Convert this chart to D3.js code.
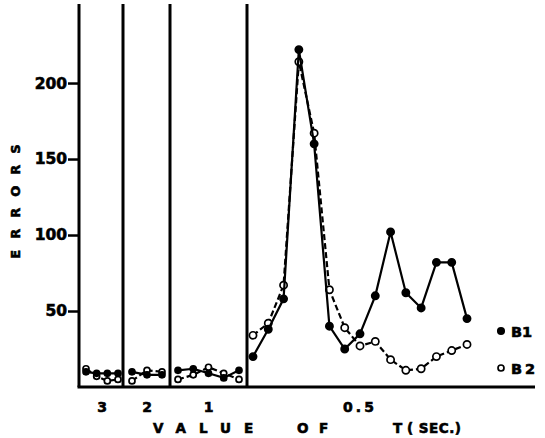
<!DOCTYPE html>
<html>
<head>
<meta charset="utf-8">
<script src="https://cdn.jsdelivr.net/npm/d3@7"></script>
<style>
  body { margin: 0; background: #fff; }
  svg { display: block; }
  text { font-family: "DejaVu Sans", sans-serif; font-weight: bold; fill: #000; stroke: #000; stroke-width: 0.6; }
</style>
</head>
<body>
<div id="chart"></div>
<script>
// Values of T (sec.) for each panel, left to right
const panels = ["3", "2", "1", "0.5"];

// Errors per session, one array per panel
const b1 = [
    [10, 9, 9, 9],
    [10, 8, 8],
    [11, 12, 9, 6, 11],
    [20, 38, 58, 222, 160, 40, 25, 35, 60, 102, 62, 52, 82, 82, 45]
];
const b2 = [
    [12, 7, 4, 5],
    [4, 11, 10],
    [5, 8, 13, 9, 5],
    [34, 42, 67, 214, 167, 64, 39, 27, 30, 18, 11, 12, 20, 24, 28]
];

const yTicks = [50, 100, 150, 200];
const seriesNames = ["B1", "B2"];

const width = 545, height = 438;

// Panel layout: separator lines and the span covered by each panel's points
const edges = [79, 123, 170, 247, 535];
const spans = [[86, 118], [132, 162], [178, 239], [253, 467]];

const svg = d3.select("#chart")
    .append("svg")
    .attr("width", width)
    .attr("height", height);

const y = d3.scaleLinear().domain([0, 252]).range([387, 4]);

// Y axis ticks and labels
const yAxis = svg.append("g")
    .attr("transform", `translate(${edges[0]},0)`)
    .call(d3.axisLeft(y).tickValues(yTicks).tickSize(11).tickPadding(1));
yAxis.select(".domain").remove();
yAxis.selectAll(".tick line").attr("stroke", "#000").attr("stroke-width", 2.5);
yAxis.selectAll(".tick text")
    .attr("font-size", 15.5)
    .attr("font-family", "DejaVu Sans")
    .attr("font-weight", "bold")
    .attr("fill", "#000");

// Panel separators (the first one is the y axis)
svg.append("g")
    .selectAll("line")
    .data(edges.slice(0, 4))
    .enter()
    .append("line")
    .attr("x1", d => d)
    .attr("x2", d => d)
    .attr("y1", y(252))
    .attr("y2", y(0))
    .attr("stroke", "#000")
    .attr("stroke-width", 3);

// Bottom axis line
svg.append("line")
    .attr("x1", edges[0] - 1.5)
    .attr("x2", edges[4])
    .attr("y1", y(0))
    .attr("y2", y(0))
    .attr("stroke", "#000")
    .attr("stroke-width", 3);

// x position of a point inside a panel
function xScale(p) {
    const n = b1[p].length;
    return d3.scaleLinear().domain([0, n - 1]).range(spans[p]);
}

const styles = [
    { data: b1, dash: null, fill: "#000" },
    { data: b2, dash: "6,3", fill: "#fff" }
];

panels.forEach((label, p) => {
    const x = xScale(p);
    const small = p < 3;
    const r = small ? 3 : 3.6;

    styles.slice().reverse().forEach(s => {
        const vals = s.data[p];
        const line = d3.line()
            .x((d, i) => x(i))
            .y(d => y(d));

        svg.append("path")
            .attr("d", line(vals))
            .attr("fill", "none")
            .attr("stroke", "#000")
            .attr("stroke-width", 2.2)
            .attr("stroke-dasharray", s.dash);

        svg.append("g")
            .selectAll("circle")
            .data(vals)
            .enter()
            .append("circle")
            .attr("cx", (d, i) => x(i))
            .attr("cy", d => y(d))
            .attr("r", r)
            .attr("fill", s.fill)
            .attr("stroke", "#000")
            .attr("stroke-width", 1.7);
    });

    // panel label under the axis
    svg.append("text")
        .attr("x", (spans[p][0] + spans[p][1]) / 2)
        .attr("y", 412)
        .attr("text-anchor", "middle")
        .attr("font-size", 14)
        .attr("letter-spacing", label.length > 1 ? 3 : 0)
        .text(label);
});

// Legend
const legend = svg.append("g");
seriesNames.forEach((name, i) => {
    const ly = 331 + i * 37;
    legend.append("circle")
        .attr("cx", 501)
        .attr("cy", ly)
        .attr("r", i === 0 ? 3.2 : 3)
        .attr("fill", styles[i].fill)
        .attr("stroke", "#000")
        .attr("stroke-width", 1.7);
    legend.append("text")
        .attr("x", 511)
        .attr("y", ly + 5.5)
        .attr("font-size", 14.5)
        .attr("letter-spacing", i === 0 ? 0 : 3)
        .text(name);
});

// Y axis title, rotated
svg.append("text")
    .attr("transform", "translate(20,196) rotate(-90)")
    .attr("text-anchor", "middle")
    .attr("font-size", 13)
    .attr("letter-spacing", 11)
    .text("ERRORS");

// X axis title, word by word
const titleParts = [
    { t: "VALUE", x: 153, ls: 13 },
    { t: "OF", x: 297, ls: 10.5 },
    { t: "T", x: 393, ls: 0 },
    { t: "( SEC.)", x: 407, ls: 0.5 }
];
svg.append("g")
    .selectAll("text")
    .data(titleParts)
    .enter()
    .append("text")
    .attr("x", d => d.x)
    .attr("y", 433)
    .attr("font-size", 13.5)
    .attr("letter-spacing", d => d.ls)
    .text(d => d.t);
</script>
</body>
</html>
